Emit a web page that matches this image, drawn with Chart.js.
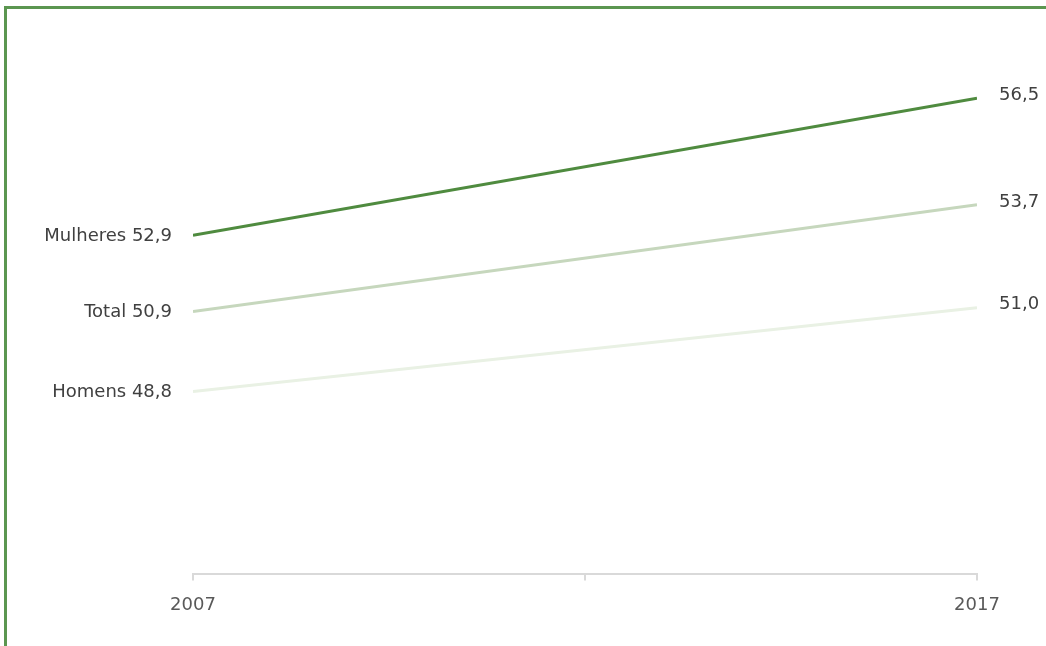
<!DOCTYPE html>
<html lang="pt">
<head>
    <meta charset="UTF-8">
    <title>Mulheres, Total, Homens 2007-2017</title>
    <script src="https://cdn.jsdelivr.net/npm/chart.js"></script>
    <style>
        body { margin: 0; background: #fff; }
        #wrap { width: 1046px; height: 646px; position: relative; }
    </style>
</head>
<body>
<div id="wrap"><canvas id="slopeChart" width="1046" height="646"></canvas></div>

<script type="text/javascript">
    // data
    const years = [2007, 2017];
    const seriesNames = ['Mulheres', 'Total', 'Homens'];
    const mulheres = [52.9, 56.5];
    const total = [50.9, 53.7];
    const homens = [48.8, 51.0];
    const tickLabels = ['2007', '', '2017'];

    const colors = ['#4f8b3f', '#c6d7bd', '#e9f1e4'];
    const seriesValues = [mulheres, total, homens];

    const fmt = v => v.toFixed(1).replace('.', ',');
    const fontFamily = '"DejaVu Sans", Verdana, sans-serif';

    // green corner frame (left + top)
    const framePlugin = {
        id: 'frame',
        beforeDraw(chart) {
            const ctx = chart.ctx;
            ctx.save();
            ctx.strokeStyle = '#5b9650';
            ctx.lineWidth = 3;
            ctx.beginPath();
            ctx.moveTo(5.5, 646);
            ctx.lineTo(5.5, 7.5);
            ctx.lineTo(1046, 7.5);
            ctx.stroke();
            ctx.restore();
        }
    };

    // end labels next to each line
    const endLabels = {
        id: 'endLabels',
        afterDatasetsDraw(chart) {
            const ctx = chart.ctx;
            ctx.save();
            ctx.font = '18px ' + fontFamily;
            ctx.fillStyle = '#404040';
            ctx.textBaseline = 'middle';
            chart.data.datasets.forEach((ds, i) => {
                const meta = chart.getDatasetMeta(i);
                const p0 = meta.data[0], p1 = meta.data[1];
                ctx.textAlign = 'right';
                ctx.fillText(ds.label + ' ' + fmt(ds.data[0].y), p0.x - 21, p0.y + 1);
                ctx.textAlign = 'left';
                ctx.fillText(fmt(ds.data[1].y), p1.x + 22, p1.y - 3);
            });
            ctx.restore();
        }
    };

    const ctx = document.getElementById('slopeChart').getContext('2d');
    new Chart(ctx, {
        type: 'line',
        data: {
            datasets: seriesNames.map((name, i) => ({
                label: name,
                data: years.map((yr, j) => ({ x: yr, y: seriesValues[i][j] })),
                borderColor: colors[i],
                borderWidth: 3,
                pointRadius: 0,
                tension: 0
            }))
        },
        options: {
            responsive: false,
            animation: false,
            layout: { padding: { left: 193, right: 69, top: 41, bottom: 16 } },
            plugins: {
                legend: { display: false },
                tooltip: { enabled: false }
            },
            scales: {
                x: {
                    type: 'linear',
                    min: 2007,
                    max: 2017,
                    ticks: {
                        stepSize: 5,
                        color: '#595959',
                        font: { size: 18, family: fontFamily },
                        padding: 14,
                        maxRotation: 0,
                        callback: (v, idx) => tickLabels[idx]
                    },
                    grid: {
                        drawOnChartArea: false,
                        color: '#d9d9d9',
                        tickLength: 6,
                        lineWidth: 2
                    },
                    border: { color: '#d9d9d9', width: 2 }
                },
                y: {
                    display: false,
                    min: 44,
                    max: 58
                }
            }
        },
        plugins: [framePlugin, endLabels]
    });
</script>
</body>
</html>
